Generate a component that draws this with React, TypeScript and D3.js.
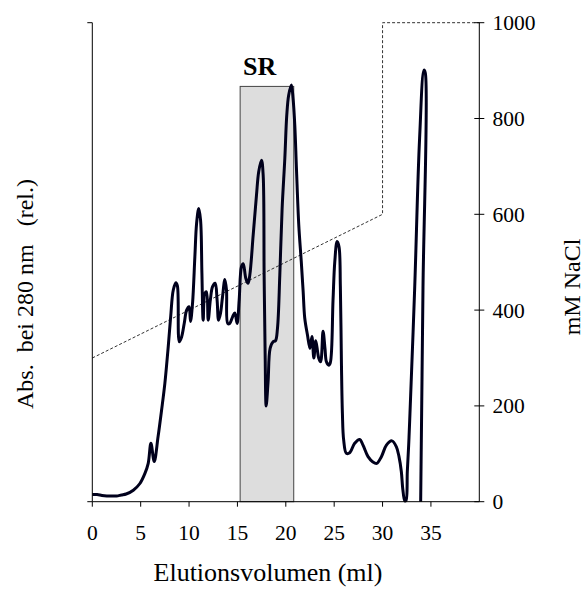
import React from "react";
import * as d3 from "d3";

// Absorbance trace (relative units, read on the 0-1000 scale of the plot height)
const absVolume: number[] = [
  0, 0.5, 1.0, 1.5, 2.0, 2.5, 3.0, 3.5, 4.24, 4.92, 5.44, 5.78, 6.06, 6.4, 6.8,
  7.16, 7.5, 7.85, 8.1, 8.37, 8.64, 8.8, 8.99, 9.23, 9.5, 9.75, 10.0, 10.15,
  10.36, 10.6, 10.78, 11.0, 11.19, 11.33, 11.46, 11.64, 11.8, 11.98, 12.2,
  12.43, 12.7, 12.9, 13.05, 13.25, 13.46, 13.7, 13.87, 14.0, 14.2, 14.5, 14.73,
  14.97, 15.18, 15.42, 15.6, 15.87, 16.1, 16.28, 16.63, 16.97, 17.2, 17.49,
  17.66, 17.76, 17.87, 17.97, 18.17, 18.38, 18.69, 18.93, 19.14, 19.38, 19.62,
  19.9, 20.1, 20.3, 20.58, 20.75, 20.93, 21.1, 21.34, 21.6, 21.79, 21.96, 22.24,
  22.5, 22.7, 22.9, 23.1, 23.4, 23.6, 23.85, 24.05, 24.2, 24.44, 24.6, 24.88,
  25.06, 25.3, 25.5, 25.64, 25.75, 25.85, 25.98, 26.26, 26.6, 27.12, 27.64,
  27.98, 28.5, 29.0, 29.4, 29.88, 30.4, 30.97, 31.42, 31.7, 31.94, 32.1, 32.3,
  32.42, 32.56, 32.7, 32.8, 33.32, 33.83, 34.28, 34.42, 34.18, 33.94,
];
const absValue: number[] = [
  15, 15, 13, 12, 12, 12, 14, 16, 24, 38, 59, 80, 122, 84, 136,
  191, 247, 324, 386, 442, 457, 450, 334, 344, 372, 400, 407, 376,
  414, 511, 581, 612, 588, 477, 379, 435, 438, 379, 421,
  449, 456, 421, 379, 393, 428, 464, 442, 372, 372, 386, 394,
  372, 421, 491, 497, 466, 456, 473, 557, 640, 689, 713,
  682, 473, 299, 200, 251, 320, 334, 336, 362, 473, 612,
  717, 807, 849, 870, 842, 786, 696, 578, 501, 440, 383, 348,
  320, 345, 300, 336, 300, 292, 356, 320, 292, 285, 290, 420,
  500, 543, 532, 449, 289, 185, 129, 101, 102, 122, 130,
  118, 94, 83, 80, 94, 118, 127, 115, 94, 63, 25, 2,
  2, 63, 118, 167, 445, 759, 901, 895, 446, 0,
];

// NaCl gradient (mM)
const naclVolume: number[] = [0, 30, 30, 40];
const naclValue: number[] = [300, 600, 1000, 1000];

// SR pooled fraction
const srStart = 15.28;
const srEnd = 20.82;
const srTop = 867;
const srLabel = "SR";
const srLabelAt = 17.3;

const xTicks: number[] = [0, 5, 10, 15, 20, 25, 30, 35];
const rightTicks: number[] = [0, 200, 400, 600, 800, 1000];

const W = 586;
const H = 589;
const FONT = "'Times New Roman', 'Liberation Serif', serif";

export default function App() {
  const x = d3.scaleLinear().domain([0, 40]).range([92.3, 479.3]);
  const yR = d3.scaleLinear().domain([0, 1000]).range([501.7, 22.7]);
  const yA = d3.scaleLinear().domain([0, 1000]).range([501.7, 22.7]);

  const absPts: [number, number][] = absVolume.map((v, i) => [v, absValue[i]]);
  const absLine = d3
    .line<[number, number]>()
    .x((d) => x(d[0]))
    .y((d) => yA(d[1]))
    .curve(d3.curveCatmullRom.alpha(0.5));

  const naclPts: [number, number][] = naclVolume.map((v, i) => [v, naclValue[i]]);
  const naclLine = d3
    .line<[number, number]>()
    .x((d) => x(d[0]))
    .y((d) => yR(d[1]));

  const x0 = x(0);
  const x1 = x(40);
  const yBottom = yR(0);
  const yTop = yR(1000);

  return (
    <svg
      width={W}
      height={H}
      style={{ position: "absolute", left: 0, top: 0, background: "#fff" }}
      fontFamily={FONT}
    >
      {/* SR region */}
      <rect
        x={x(srStart)}
        y={yA(srTop)}
        width={x(srEnd) - x(srStart)}
        height={yA(0) - yA(srTop)}
        fill="#dddddd"
        stroke="#444"
        strokeWidth={1}
      />
      <text
        x={x(srLabelAt)}
        y={yA(srTop) - 11}
        textAnchor="middle"
        fontSize={26}
        fontWeight="bold"
        fill="#000"
      >
        {srLabel}
      </text>

      {/* NaCl gradient */}
      <path
        d={naclLine(naclPts) || ""}
        fill="none"
        stroke="#333"
        strokeWidth={1}
        strokeDasharray="3,2"
      />

      {/* Absorbance trace */}
      <path
        d={absLine(absPts) || ""}
        fill="none"
        stroke="#00001c"
        strokeWidth={3}
        strokeLinejoin="round"
      />

      {/* Left axis */}
      <line x1={x0} x2={x0} y1={yTop} y2={yBottom} stroke="#000" strokeWidth={1} />
      <line x1={x0 - 5} x2={x0} y1={yTop} y2={yTop} stroke="#000" strokeWidth={1} />
      <line x1={x0 - 5} x2={x0} y1={yBottom} y2={yBottom} stroke="#000" strokeWidth={1} />

      {/* Bottom axis */}
      <line x1={x0} x2={x1} y1={yBottom} y2={yBottom} stroke="#000" strokeWidth={1} />
      {xTicks.map((t) => (
        <g key={"xt" + t}>
          <line x1={x(t)} x2={x(t)} y1={yBottom} y2={yBottom + 5} stroke="#000" strokeWidth={1} />
          <text x={x(t)} y={540} textAnchor="middle" fontSize={21.5} fill="#000">
            {t}
          </text>
        </g>
      ))}

      {/* Right axis */}
      <line x1={x1} x2={x1} y1={yTop} y2={yBottom} stroke="#000" strokeWidth={1} />
      {rightTicks.map((t) => (
        <g key={"rt" + t}>
          <line x1={x1 - 5} x2={x1 + 5} y1={yR(t)} y2={yR(t)} stroke="#000" strokeWidth={1} />
          <text x={492.5} y={yR(t) + 7.5} textAnchor="start" fontSize={21.5} fill="#000">
            {t}
          </text>
        </g>
      ))}

      {/* Axis titles */}
      <text x={268} y={581} textAnchor="middle" fontSize={26} fill="#000">
        Elutionsvolumen (ml)
      </text>
      <text
        transform="translate(33,294) rotate(-90)"
        textAnchor="middle"
        fontSize={24}
        fill="#000"
        style={{ whiteSpace: "pre" }}
      >
        {"Abs.  bei 280 nm   (rel.)"}
      </text>
      <text
        transform="translate(580,287) rotate(-90)"
        textAnchor="middle"
        fontSize={24}
        fill="#000"
      >
        mM NaCl
      </text>
    </svg>
  );
}
